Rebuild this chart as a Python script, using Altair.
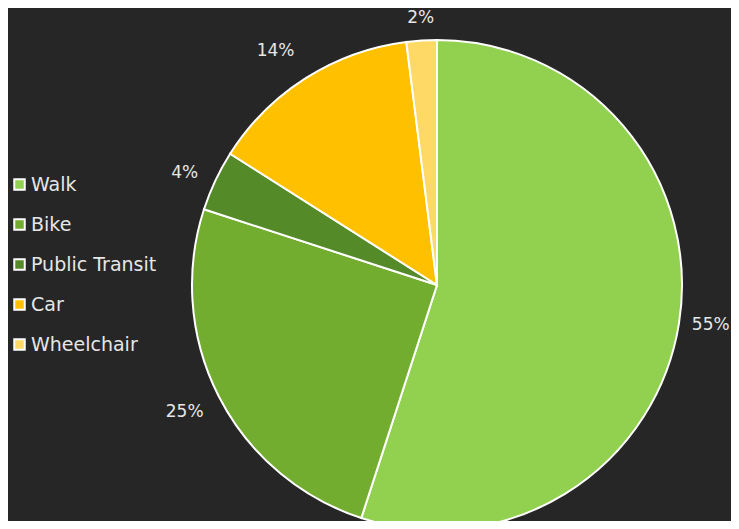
import altair as alt
import pandas as pd

modes = ["Walk", "Bike", "Public Transit", "Car", "Wheelchair"]
shares = [55, 25, 4, 14, 2]
labels = ["55%", "25%", "4%", "14%", "2%"]
colors = ["#92D050", "#72AD2F", "#558A28", "#FFC000", "#FFD966"]

df = pd.DataFrame({"mode": modes, "share": shares, "label": labels,
                   "idx": list(range(len(modes)))})

cx, cy, R = 429, 277, 245

theta_scale = alt.Scale(domain=[0, 100])

base = alt.Chart(df).transform_window(
    cum="sum(share)", sort=[alt.SortField("idx")], frame=[None, 0]
).transform_calculate(
    start="datum.cum - datum.share",
    mid="datum.cum - datum.share / 2",
)

pie = base.mark_arc(stroke="white", strokeWidth=2, radius=R).encode(
    theta=alt.Theta("start:Q", scale=theta_scale),
    theta2="cum:Q",
    x=alt.value(cx), y=alt.value(cy),
    color=alt.Color("mode:N", sort=modes,
                    scale=alt.Scale(domain=modes, range=colors),
                    legend=alt.Legend(title=None, orient="none", legendX=2, legendY=167,
                                      symbolType="square", symbolSize=110,
                                      symbolStrokeColor="white", symbolStrokeWidth=2,
                                      symbolOpacity=1,
                                      labelColor="#e6e6e6", labelFontSize=19,
                                      labelFont="DejaVu Sans", rowPadding=20,
                                      labelOffset=2)),
)


def label_layer(names, align, baseline, radius):
    return base.transform_filter(
        alt.FieldOneOfPredicate(field="mode", oneOf=names)
    ).mark_text(radius=radius, fontSize=17, font="DejaVu Sans", color="#e6e6e6",
                align=align, baseline=baseline).encode(
        theta=alt.Theta("mid:Q", scale=theta_scale),
        x=alt.value(cx), y=alt.value(cy), text="label:N",
    )


texts = (
    label_layer(["Walk"], "left", "middle", 258)
    + label_layer(["Bike"], "right", "top", 262)
    + label_layer(["Public Transit"], "right", "middle", 264)
    + label_layer(["Car"], "right", "bottom", 266)
    + label_layer(["Wheelchair"], "center", "bottom", 259)
)

chart = (pie + texts).properties(
    width=723, height=513, padding=0, background="#262626",
    autosize=alt.AutoSizeParams(type="none"),
).configure_view(stroke=None)

chart.save("out.html", embed_options={"renderer": "svg", "actions": False})
